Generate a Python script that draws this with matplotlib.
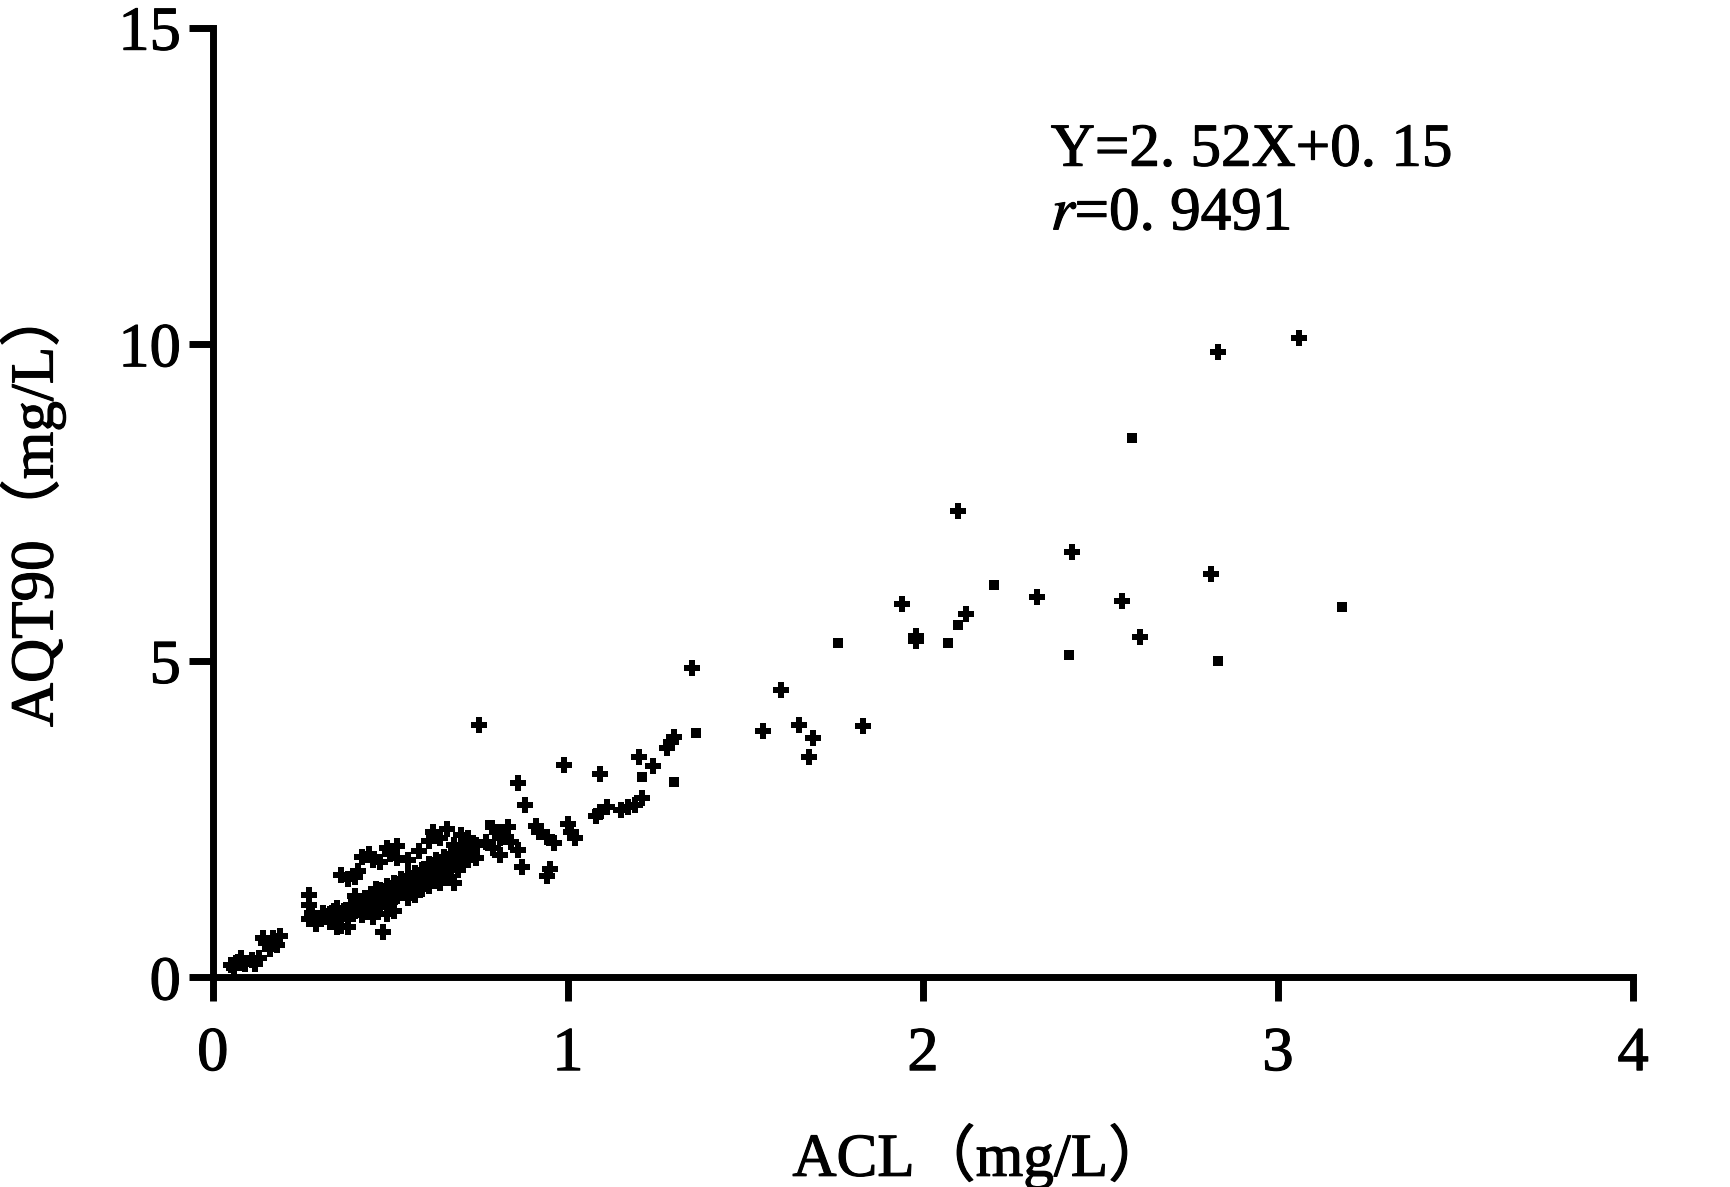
import matplotlib
matplotlib.use("Agg")
import matplotlib.pyplot as plt
import matplotlib.patheffects as pe

plt.rcParams.update({
    "font.family": ["Liberation Serif", "Noto Sans CJK SC"],
    "mathtext.fontset": "stix",
    "font.size": 44,
})

# ── data: ACL (x) vs AQT90 (y), mg/L ───────────────────────────────────────
# points drawn with a "+" marker
acl_plus = [
    0.05, 0.07, 0.09, 0.11, 0.12, 0.08, 0.13, 0.06,
    0.15, 0.17, 0.18, 0.16, 0.19, 0.14,
    0.27, 0.27, 0.28, 0.27, 0.30, 0.29, 0.32,
    0.33, 0.35, 0.35, 0.37, 0.38, 0.36, 0.39, 0.40, 0.41, 0.42, 0.42, 0.43,
    0.44, 0.45, 0.45, 0.46, 0.47, 0.47, 0.48, 0.49, 0.49, 0.50, 0.50, 0.51,
    0.52, 0.52, 0.53, 0.53, 0.54, 0.55, 0.55, 0.56, 0.56, 0.57, 0.57, 0.58,
    0.58, 0.59, 0.59, 0.60, 0.60, 0.61, 0.61, 0.62, 0.62, 0.63, 0.63, 0.64,
    0.64, 0.65, 0.65, 0.66, 0.66, 0.67, 0.67, 0.68, 0.68, 0.69, 0.69, 0.70,
    0.70, 0.71, 0.72, 0.73, 0.74, 0.74, 0.45, 0.38, 0.33, 0.48, 0.35,
    0.51, 0.49,
    # filling the solid core of the cluster
    0.31, 0.34, 0.36, 0.39, 0.41, 0.43, 0.44, 0.46, 0.48, 0.50, 0.51, 0.53,
    0.54, 0.55, 0.57, 0.58, 0.60, 0.61, 0.62, 0.63, 0.65, 0.66, 0.67, 0.69,
    0.71, 0.72, 0.56, 0.59, 0.64, 0.68, 0.40, 0.46,
    0.36, 0.38, 0.40, 0.41, 0.42, 0.44, 0.45, 0.47, 0.49, 0.50, 0.52, 0.52,
    0.61, 0.62, 0.64, 0.66, 0.68, 0.70, 0.72, 0.73, 0.58, 0.55,
    0.77, 0.80, 0.81, 0.79, 0.81, 0.84, 0.83, 0.86, 0.87, 0.86, 0.88, 0.91,
    0.92, 0.94, 0.96, 0.95, 0.94, 0.99, 1.00, 1.01, 1.02, 0.75,
    1.08, 1.09, 1.11, 1.09, 1.15, 1.17, 1.19, 1.21, 1.20, 1.24, 1.28, 1.29,
    1.30, 1.35, 1.55, 1.60, 1.65, 1.69, 1.68, 1.83,
    1.94, 1.98, 1.98, 2.12, 2.10, 2.32, 2.42, 2.56, 2.61, 2.81, 2.83, 3.06,
]
aqt_plus = [
    0.20, 0.25, 0.22, 0.27, 0.22, 0.30, 0.30, 0.15,
    0.55, 0.62, 0.52, 0.45, 0.66, 0.62,
    1.30, 1.15, 1.02, 0.92, 0.92, 0.85, 0.95,
    1.00, 0.95, 1.10, 1.05, 0.92, 0.82, 1.15, 1.05, 1.20, 1.10, 0.98, 1.25,
    1.15, 1.05, 1.30, 1.20, 1.12, 1.38, 1.25, 1.15, 1.45, 1.32, 1.20, 1.50,
    1.40, 1.28, 1.55, 1.35, 1.45, 1.60, 1.25, 1.50, 1.38, 1.65, 1.30, 1.55,
    1.45, 1.70, 1.40, 1.60, 1.50, 1.80, 1.45, 1.68, 1.55, 1.85, 1.62, 1.75,
    1.50, 1.90, 1.65, 1.80, 1.58, 1.95, 1.72, 1.85, 1.50, 2.00, 1.70, 1.90,
    1.78, 2.05, 1.85, 1.95, 1.89, 2.10, 0.95, 0.80, 0.88, 0.72, 0.80,
    1.05, 1.00,
    1.02, 1.05, 1.00, 1.10, 1.12, 1.18, 1.08, 1.25, 1.33, 1.40, 1.36, 1.45,
    1.52, 1.42, 1.58, 1.62, 1.68, 1.62, 1.75, 1.72, 1.78, 1.70, 1.82, 1.85,
    1.95, 1.92, 1.55, 1.62, 1.65, 1.78, 1.28, 1.40,
    1.62, 1.55, 1.58, 1.68, 1.90, 1.95, 1.85, 1.82, 2.05, 1.95, 2.08, 1.88,
    2.15, 2.30, 2.20, 2.35, 2.10, 2.25, 2.20, 2.05, 2.00, 1.85,
    2.14, 2.30, 2.20, 2.05, 1.93, 2.14, 2.38, 2.01, 1.75, 3.07, 2.72, 2.40,
    2.30, 2.22, 2.12, 1.72, 1.60, 3.36, 2.42, 2.30, 2.20, 3.99,
    2.55, 2.62, 2.70, 3.21, 2.65, 2.70, 2.72, 2.84, 3.48, 3.34, 3.62, 3.72,
    3.80, 4.89, 3.90, 4.54, 3.99, 3.78, 3.48, 3.97,
    5.90, 5.40, 5.32, 5.74, 7.37, 6.01, 6.72, 5.95, 5.38, 6.37, 9.88, 10.10,
]

# points drawn with a small square marker
acl_sq = [2.59, 2.20, 1.76, 2.07, 2.10, 3.18, 2.83, 2.41, 1.36, 1.21, 1.30, 0.78]
aqt_sq = [8.52, 6.20, 5.28, 5.28, 5.56, 5.85, 5.00, 5.09, 3.86, 3.17, 3.09, 2.41]

X_TICKS = [0, 1, 2, 3, 4]
Y_TICKS = [0, 5, 10, 15]

# slightly heavier strokes than the regular serif face
heavy = [pe.withStroke(linewidth=0.8, foreground="black")]

fig = plt.figure(figsize=(17.30, 11.87), dpi=100)
ax = fig.add_axes([0.123, 0.1765, 0.821, 0.8002])

ax.scatter(acl_plus, aqt_plus, marker="P", s=140, color="black",
           linewidths=0, zorder=3)
ax.scatter(acl_sq, aqt_sq, marker="s", s=60, color="black",
           linewidths=0, zorder=3)

ax.set_xlim(0, 4)
ax.set_ylim(0, 15)
ax.set_xticks(X_TICKS)
ax.set_yticks(Y_TICKS)

for side in ("top", "right"):
    ax.spines[side].set_visible(False)
for side in ("left", "bottom"):
    ax.spines[side].set_linewidth(5)
ax.tick_params(direction="out", length=17, width=5, labelsize=45)
ax.tick_params(axis="x", pad=18)
ax.tick_params(axis="y", pad=6)
for lbl in ax.get_xticklabels() + ax.get_yticklabels():
    lbl.set_path_effects(heavy)

# regression annotation
ax.text(2.36, 12.82, "Y=2. 52X+0. 15", fontsize=44, va="baseline",
        path_effects=heavy)
ax.text(2.36, 11.81, "$r$=0. 9491", fontsize=44, va="baseline",
        path_effects=heavy)

fig.text(0.567, 0.026, "ACL（mg/L）", fontsize=44, ha="center", va="center",
         path_effects=heavy)
fig.text(0.019, 0.5735, "AQT90（mg/L）", fontsize=44, rotation=90,
         ha="center", va="center", path_effects=heavy)

fig.savefig("out.png", dpi=100)
